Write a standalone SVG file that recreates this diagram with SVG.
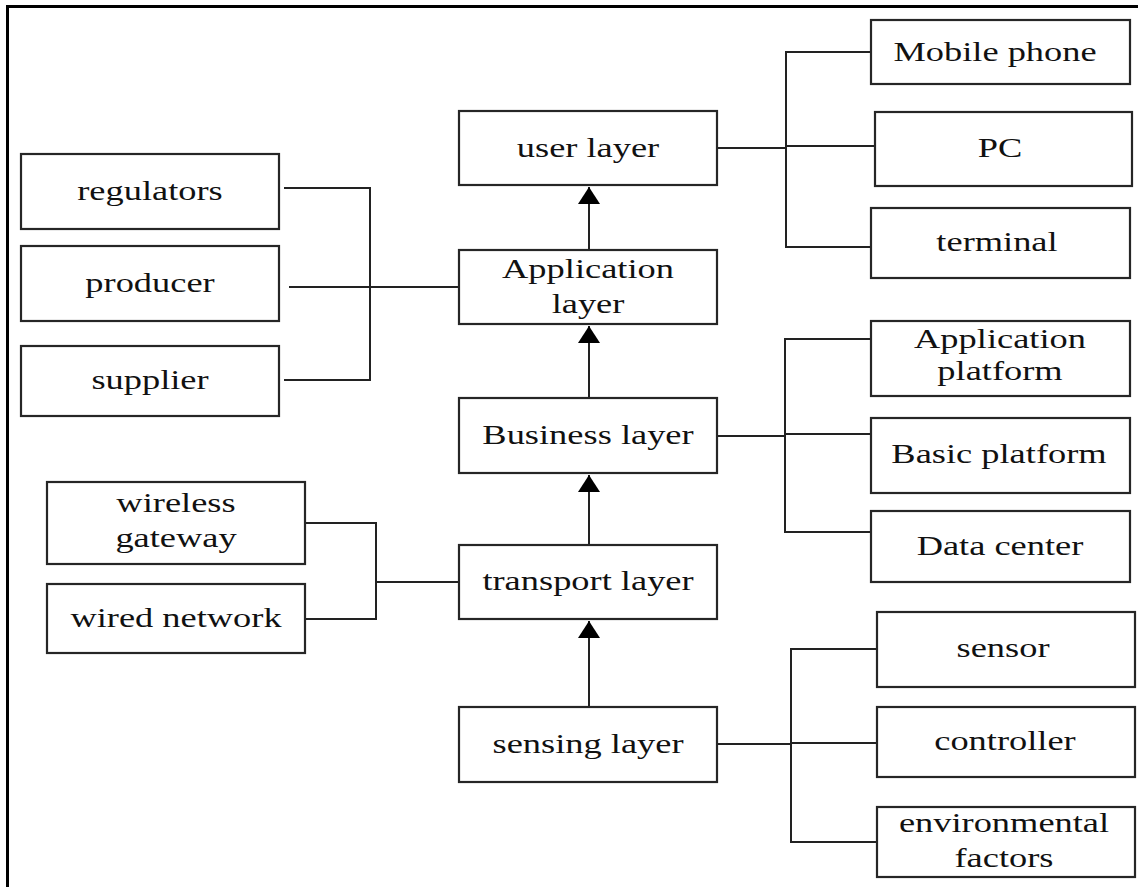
<svg xmlns="http://www.w3.org/2000/svg" width="1138" height="887" viewBox="0 0 1138 887">
<style>
.box{fill:#fff;stroke:#262626;stroke-width:2.2}
.ln{fill:none;stroke:#222;stroke-width:2}
.t{font-family:"Liberation Serif","Times New Roman",serif;font-size:28px;fill:#111;text-anchor:middle}
</style>
<defs>
<marker id="ah" viewBox="0 0 17 22" markerWidth="17" markerHeight="22" markerUnits="userSpaceOnUse" refX="17" refY="11" orient="auto">
<path d="M0,0 L17,11 L0,22 z" fill="#000"/>
</marker>
</defs>
<rect width="1138" height="887" fill="#fff"/>
<path d="M7.5,887 V6.5 H1138" fill="none" stroke="#000" stroke-width="3"/>
<g id="connectors">
<path class="ln" d="M589,250 V187" marker-end="url(#ah)"/>
<path class="ln" d="M589,398 V326" marker-end="url(#ah)"/>
<path class="ln" d="M589,545 V475" marker-end="url(#ah)"/>
<path class="ln" d="M589,707 V621" marker-end="url(#ah)"/>
<path class="ln" d="M284,188 H370 V380 H284"/>
<path class="ln" d="M289,287 H459"/>
<path class="ln" d="M305,523 H376 V619 H305"/>
<path class="ln" d="M376,582 H459"/>
<path class="ln" d="M717,148 H786"/>
<path class="ln" d="M871,52 H786 V247 H871"/>
<path class="ln" d="M786,146 H875"/>
<path class="ln" d="M717,436 H785"/>
<path class="ln" d="M871,339 H785 V532 H871"/>
<path class="ln" d="M785,434 H871"/>
<path class="ln" d="M717,744 H791"/>
<path class="ln" d="M877,649 H791 V842 H877"/>
<path class="ln" d="M791,743 H877"/>
</g>
<g id="user-layer"><rect class="box" x="459" y="111" width="258" height="74"/><text class="t" transform="translate(588,157) scale(1.3,1)">user layer</text></g>
<g id="application-layer"><rect class="box" x="459" y="250" width="258" height="74"/><text class="t" transform="translate(588,278) scale(1.3,1)">Application</text><text class="t" transform="translate(588,313) scale(1.3,1)">layer</text></g>
<g id="business-layer"><rect class="box" x="459" y="398" width="258" height="75"/><text class="t" transform="translate(588,444) scale(1.3,1)">Business layer</text></g>
<g id="transport-layer"><rect class="box" x="459" y="545" width="258" height="74"/><text class="t" transform="translate(588,590) scale(1.3,1)">transport layer</text></g>
<g id="sensing-layer"><rect class="box" x="459" y="707" width="258" height="75"/><text class="t" transform="translate(588,753) scale(1.3,1)">sensing layer</text></g>
<g id="regulators"><rect class="box" x="21" y="154" width="258" height="75"/><text class="t" transform="translate(150,200) scale(1.3,1)">regulators</text></g>
<g id="producer"><rect class="box" x="21" y="246" width="258" height="75"/><text class="t" transform="translate(150,292) scale(1.3,1)">producer</text></g>
<g id="supplier"><rect class="box" x="21" y="346" width="258" height="70"/><text class="t" transform="translate(150,389) scale(1.3,1)">supplier</text></g>
<g id="wireless-gateway"><rect class="box" x="47" y="482" width="258" height="82"/><text class="t" transform="translate(176,512) scale(1.3,1)">wireless</text><text class="t" transform="translate(176,547) scale(1.3,1)">gateway</text></g>
<g id="wired-network"><rect class="box" x="47" y="584" width="258" height="69"/><text class="t" transform="translate(176,627) scale(1.3,1)">wired network</text></g>
<g id="mobile-phone"><rect class="box" x="871" y="20" width="259" height="64"/><text class="t" transform="translate(995,61) scale(1.3,1)">Mobile phone</text></g>
<g id="pc"><rect class="box" x="875" y="112" width="257" height="74"/><text class="t" transform="translate(1000,157) scale(1.3,1)">PC</text></g>
<g id="terminal"><rect class="box" x="871" y="208" width="259" height="70"/><text class="t" transform="translate(997,251) scale(1.3,1)">terminal</text></g>
<g id="application-platform"><rect class="box" x="871" y="321" width="259" height="75"/><text class="t" transform="translate(1000,348) scale(1.3,1)">Application</text><text class="t" transform="translate(1000,380) scale(1.3,1)">platform</text></g>
<g id="basic-platform"><rect class="box" x="871" y="418" width="259" height="75"/><text class="t" transform="translate(999,463) scale(1.3,1)">Basic platform</text></g>
<g id="data-center"><rect class="box" x="871" y="511" width="259" height="71"/><text class="t" transform="translate(1000,555) scale(1.3,1)">Data center</text></g>
<g id="sensor"><rect class="box" x="877" y="612" width="258" height="75"/><text class="t" transform="translate(1003,657) scale(1.3,1)">sensor</text></g>
<g id="controller"><rect class="box" x="877" y="707" width="258" height="70"/><text class="t" transform="translate(1005,750) scale(1.3,1)">controller</text></g>
<g id="environmental-factors"><rect class="box" x="877" y="807" width="258" height="70"/><text class="t" transform="translate(1004,832) scale(1.3,1)">environmental</text><text class="t" transform="translate(1004,867) scale(1.3,1)">factors</text></g>
</svg>
